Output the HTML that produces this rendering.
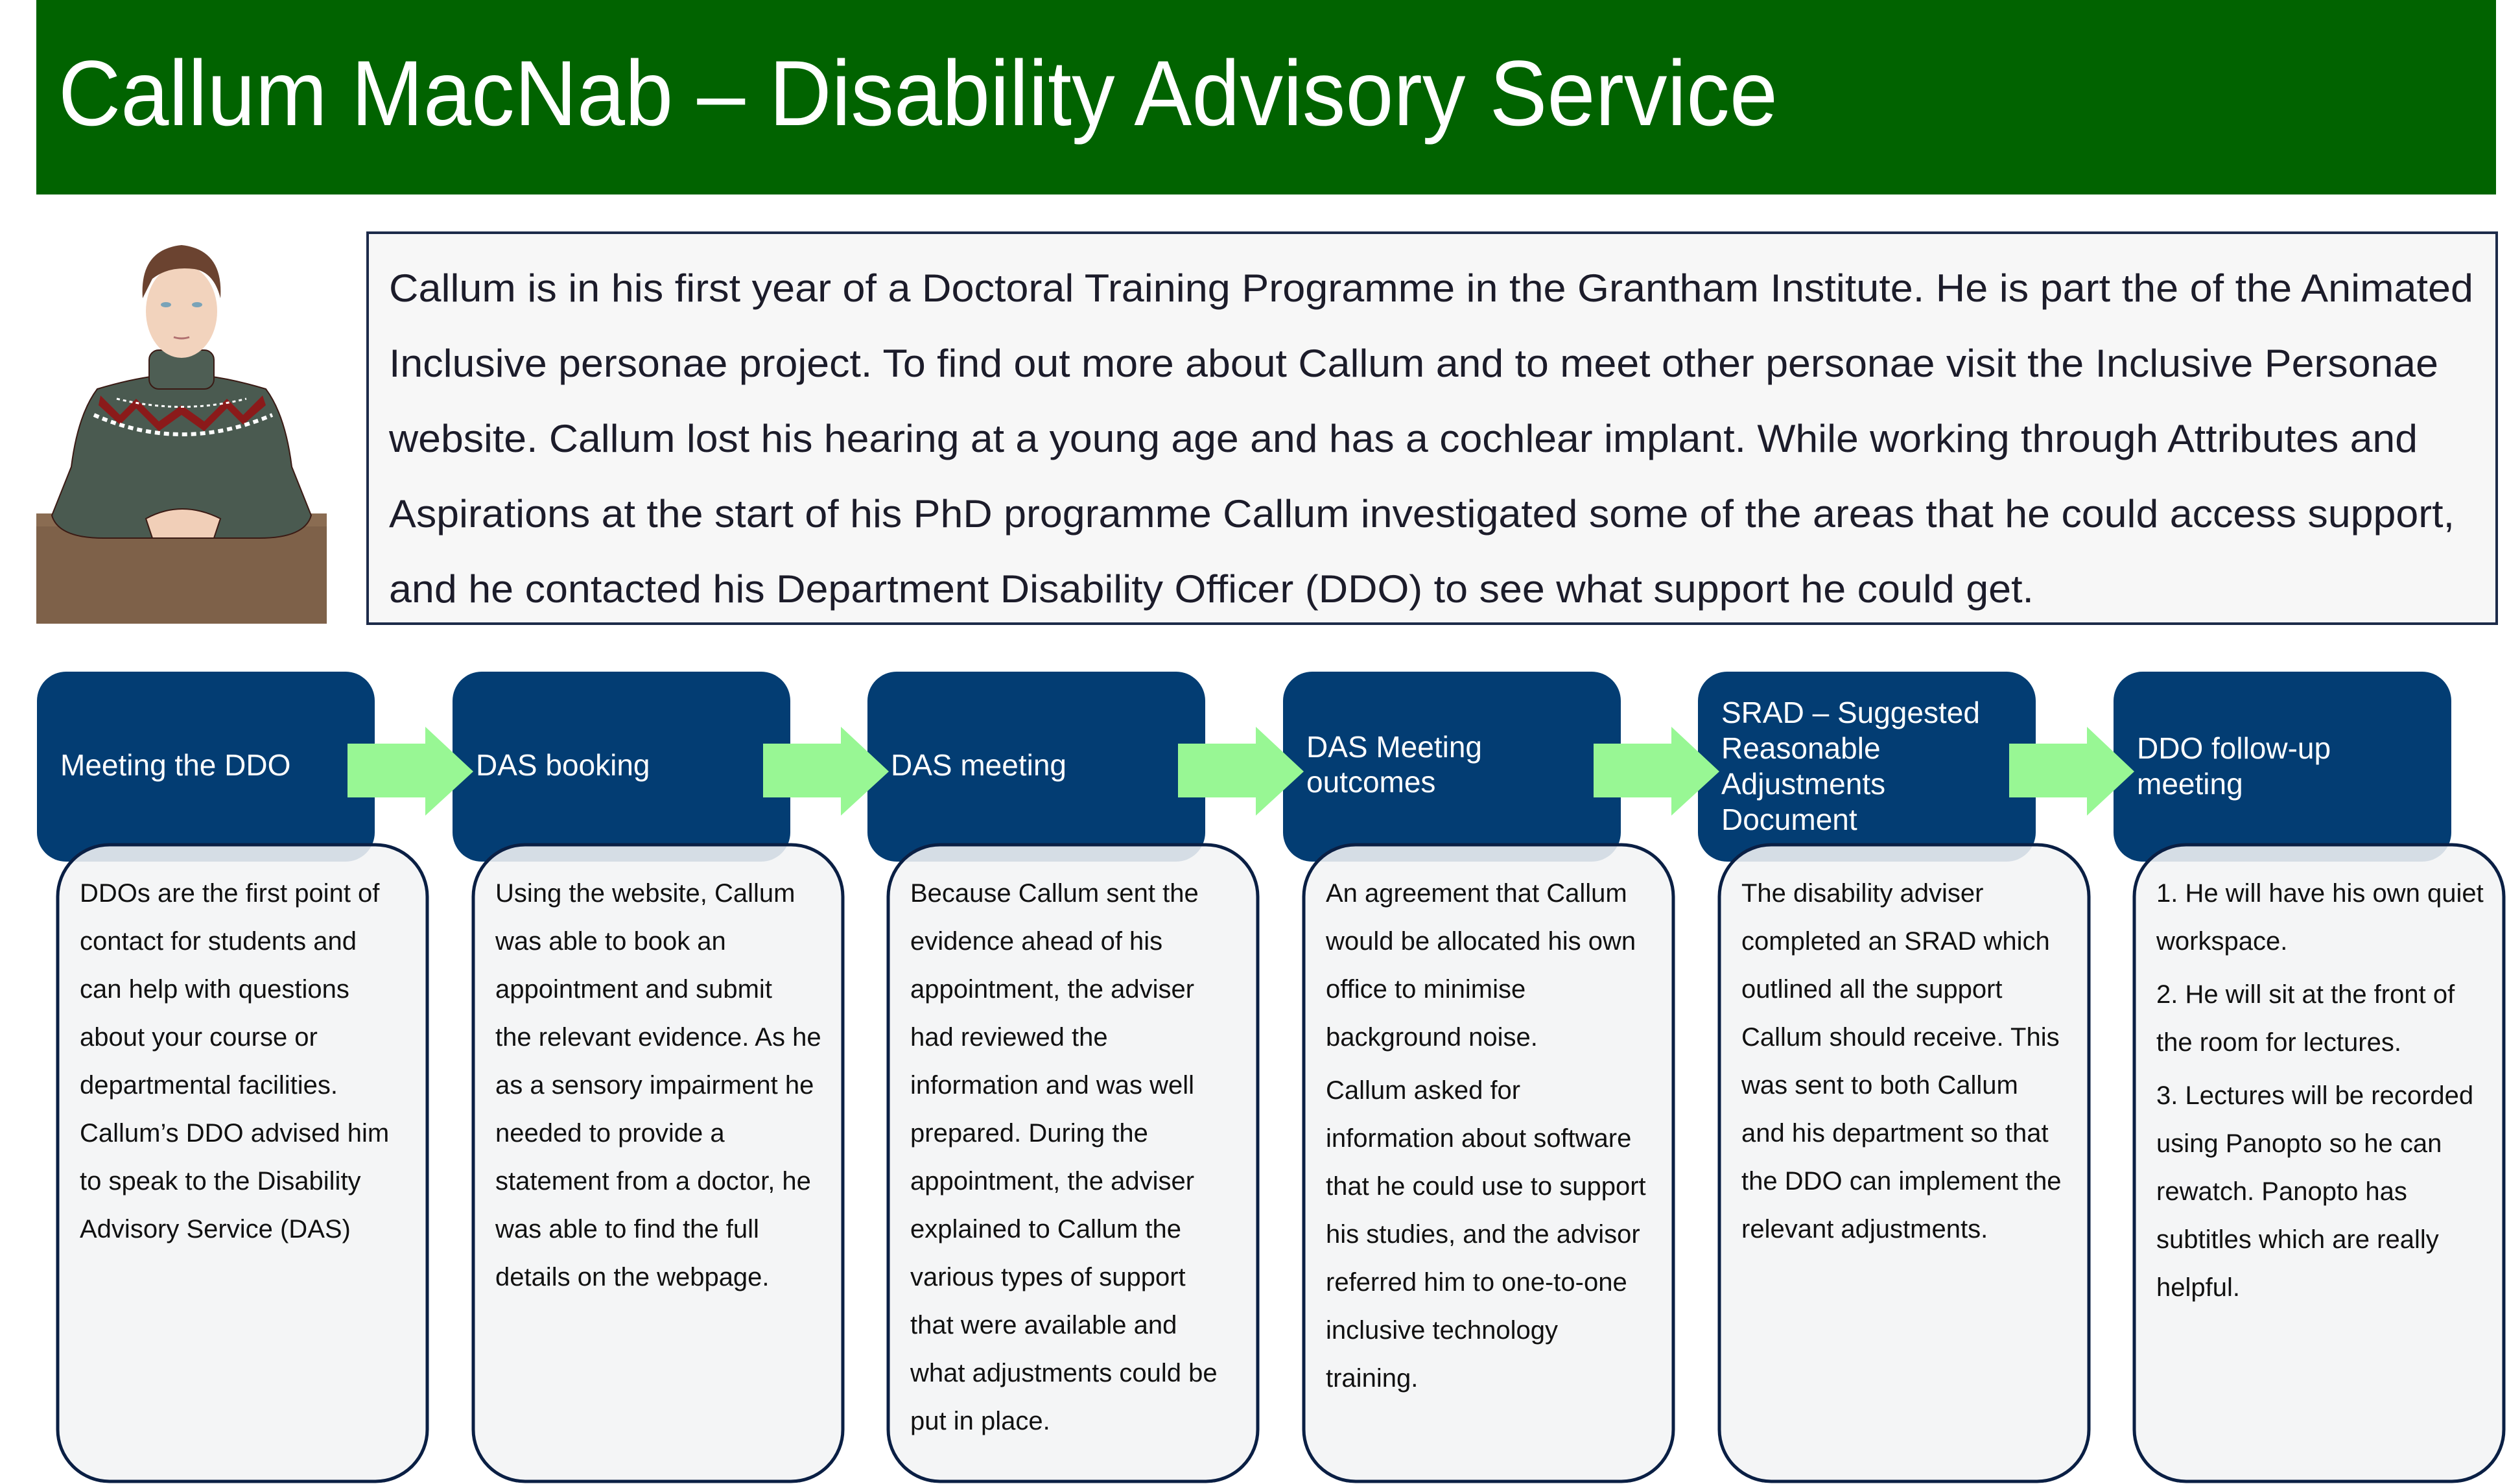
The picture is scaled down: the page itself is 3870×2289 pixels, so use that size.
<!DOCTYPE html>
<html><head><meta charset="utf-8"><style>
html,body{margin:0;padding:0;background:#fff;}
svg{display:block;}
text{font-family:"Liberation Sans",sans-serif;}
</style></head><body>
<svg width="3870" height="2289" viewBox="0 0 3870 2289" xmlns="http://www.w3.org/2000/svg">
<rect x="0" y="0" width="3870" height="2289" fill="#fff"/>
<rect x="56" y="0" width="3794" height="300" fill="#016300"/>
<text x="90" y="193" font-size="143" fill="#fff" textLength="2652" lengthAdjust="spacingAndGlyphs">Callum MacNab – Disability Advisory Service</text>

<g>
<rect x="56" y="792" width="448" height="170" fill="#7e6149"/>
<rect x="56" y="792" width="448" height="20" fill="#8a6c52"/>
<path d="M150 600 Q200 585 240 580 L320 580 Q360 585 410 600 Q440 640 450 720 L480 795 Q470 830 400 830 L160 830 Q90 830 80 795 L110 720 Q120 640 150 600Z" fill="#4a5a50" stroke="#3a1a14" stroke-width="2"/>
<rect x="230" y="540" width="100" height="60" rx="15" fill="#4e5e54" stroke="#3a1a14" stroke-width="2"/>
<path d="M155 610 L185 640 L210 615 L245 650 L280 625 L315 650 L350 615 L375 640 L405 610 L410 625 L375 655 L350 630 L315 665 L280 640 L245 665 L210 630 L185 655 L152 625Z" fill="#8b1a1a"/>
<path d="M145 640 Q280 700 420 640" fill="none" stroke="#fff" stroke-width="6" stroke-dasharray="8 6"/>
<path d="M180 615 Q280 640 380 615" fill="none" stroke="#fff" stroke-width="3" stroke-dasharray="5 5"/>
<path d="M225 800 Q280 770 340 800 L330 830 L235 830Z" fill="#f1cfb8" stroke="#3a1a14" stroke-width="2"/>
<ellipse cx="280" cy="480" rx="55" ry="72" fill="#f2d3bd"/>
<path d="M220 460 Q215 385 280 378 Q345 385 340 460 Q330 420 300 415 Q260 410 235 430Z" fill="#6b4330"/>
<ellipse cx="256" cy="470" rx="8" ry="4" fill="#7aa3b8"/>
<ellipse cx="304" cy="470" rx="8" ry="4" fill="#7aa3b8"/>
<path d="M268 520 Q280 524 292 520" stroke="#b07070" stroke-width="3" fill="none"/>
</g>

<rect x="567" y="359" width="3284" height="603" fill="#f7f7f7" stroke="#1d2b4a" stroke-width="4"/>
<g font-size="60" fill="#1c1c2a">
<text x="600" y="465" textLength="3215" lengthAdjust="spacingAndGlyphs">Callum is in his first year of a Doctoral Training Programme in the Grantham Institute. He  is part the of the Animated</text>
<text x="600" y="581" textLength="3161" lengthAdjust="spacingAndGlyphs">Inclusive personae project. To find out more about Callum and to meet other personae visit the Inclusive Personae</text>
<text x="600" y="697" textLength="3129" lengthAdjust="spacingAndGlyphs">website. Callum lost his hearing at a young age and has a cochlear implant. While working through Attributes and</text>
<text x="600" y="813" textLength="3186" lengthAdjust="spacingAndGlyphs">Aspirations at the start of his PhD programme Callum investigated some of the areas that he could access support,</text>
<text x="600" y="929" textLength="2537" lengthAdjust="spacingAndGlyphs">and he contacted his Department Disability Officer (DDO) to see what support he could get.</text>
</g>

<g fill="#033d73">
<rect x="57" y="1036" width="521" height="293" rx="45"/>
<rect x="698" y="1036" width="521" height="293" rx="45"/>
<rect x="1338" y="1036" width="521" height="293" rx="45"/>
<rect x="1979" y="1036" width="521" height="293" rx="45"/>
<rect x="2619" y="1036" width="521" height="293" rx="45"/>
<rect x="3260" y="1036" width="521" height="293" rx="45"/>
</g>

<g fill="#98f794">
<polygon points="536,1147 656,1147 656,1121 730,1190 656,1258 656,1230 536,1230"/>
<polygon points="1177,1147 1297,1147 1297,1121 1371,1190 1297,1258 1297,1230 1177,1230"/>
<polygon points="1817,1147 1937,1147 1937,1121 2011,1190 1937,1258 1937,1230 1817,1230"/>
<polygon points="2458,1147 2578,1147 2578,1121 2652,1190 2578,1258 2578,1230 2458,1230"/>
<polygon points="3099,1147 3219,1147 3219,1121 3292,1190 3219,1258 3219,1230 3099,1230"/>
</g>

<g font-size="46" fill="#fff">
<text x="93" y="1196">Meeting the DDO</text>
<text x="734" y="1196">DAS booking</text>
<text x="1374" y="1196">DAS meeting</text>
<text x="2015" y="1168">DAS Meeting</text>
<text x="2015" y="1222">outcomes</text>
<text x="2655" y="1115">SRAD – Suggested</text>
<text x="2655" y="1170">Reasonable</text>
<text x="2655" y="1225">Adjustments</text>
<text x="2655" y="1280">Document</text>
<text x="3296" y="1170">DDO follow-up</text>
<text x="3296" y="1225">meeting</text>
</g>

<g fill="#f3f4f5" fill-opacity="0.88" stroke="#0a1f44" stroke-width="5">
<rect x="89" y="1303" width="570" height="982" rx="80"/>
<rect x="730" y="1303" width="570" height="982" rx="80"/>
<rect x="1370" y="1303" width="570" height="982" rx="80"/>
<rect x="2011" y="1303" width="570" height="982" rx="80"/>
<rect x="2652" y="1303" width="570" height="982" rx="80"/>
<rect x="3292" y="1303" width="570" height="982" rx="80"/>
</g>

<g font-size="40" fill="#111">
<text x="123" y="1391">DDOs are the first point of</text>
<text x="123" y="1465">contact for students and</text>
<text x="123" y="1539">can help with questions</text>
<text x="123" y="1613">about your course or</text>
<text x="123" y="1687">departmental facilities.</text>
<text x="123" y="1761">Callum’s DDO advised him</text>
<text x="123" y="1835">to speak to the Disability</text>
<text x="123" y="1909">Advisory Service (DAS)</text>

<text x="764" y="1391">Using the website, Callum</text>
<text x="764" y="1465">was able to book an</text>
<text x="764" y="1539">appointment and submit</text>
<text x="764" y="1613">the relevant evidence. As he</text>
<text x="764" y="1687">as a sensory impairment he</text>
<text x="764" y="1761">needed to provide a</text>
<text x="764" y="1835">statement from a doctor, he</text>
<text x="764" y="1909">was able to find the full</text>
<text x="764" y="1983">details on the webpage.</text>

<text x="1404" y="1391">Because Callum sent the</text>
<text x="1404" y="1465">evidence ahead of his</text>
<text x="1404" y="1539">appointment, the adviser</text>
<text x="1404" y="1613">had reviewed the</text>
<text x="1404" y="1687">information and was well</text>
<text x="1404" y="1761">prepared.  During the</text>
<text x="1404" y="1835">appointment, the adviser</text>
<text x="1404" y="1909">explained to Callum the</text>
<text x="1404" y="1983">various types of support</text>
<text x="1404" y="2057">that were available and</text>
<text x="1404" y="2131">what adjustments could be</text>
<text x="1404" y="2205">put in place.</text>

<text x="2045" y="1391">An agreement that Callum</text>
<text x="2045" y="1465">would be allocated his own</text>
<text x="2045" y="1539">office to minimise</text>
<text x="2045" y="1613">background noise.</text>
<text x="2045" y="1695">Callum asked for</text>
<text x="2045" y="1769">information about software</text>
<text x="2045" y="1843">that he could use to support</text>
<text x="2045" y="1917">his studies, and the advisor</text>
<text x="2045" y="1991">referred him to one-to-one</text>
<text x="2045" y="2065">inclusive technology</text>
<text x="2045" y="2139">training.</text>

<text x="2686" y="1391">The disability adviser</text>
<text x="2686" y="1465">completed an SRAD which</text>
<text x="2686" y="1539">outlined all the support</text>
<text x="2686" y="1613">Callum should receive. This</text>
<text x="2686" y="1687">was sent to both Callum</text>
<text x="2686" y="1761">and his department so that</text>
<text x="2686" y="1835">the DDO can implement the</text>
<text x="2686" y="1909">relevant adjustments.</text>

<text x="3326" y="1391">1. He will have his own quiet</text>
<text x="3326" y="1465">workspace.</text>
<text x="3326" y="1547">2. He will sit at the front of</text>
<text x="3326" y="1621">the room for lectures.</text>
<text x="3326" y="1703">3. Lectures will be recorded</text>
<text x="3326" y="1777">using Panopto so he can</text>
<text x="3326" y="1851">rewatch. Panopto has</text>
<text x="3326" y="1925">subtitles which are really</text>
<text x="3326" y="1999">helpful.</text>
</g>
</svg>
</body></html>
